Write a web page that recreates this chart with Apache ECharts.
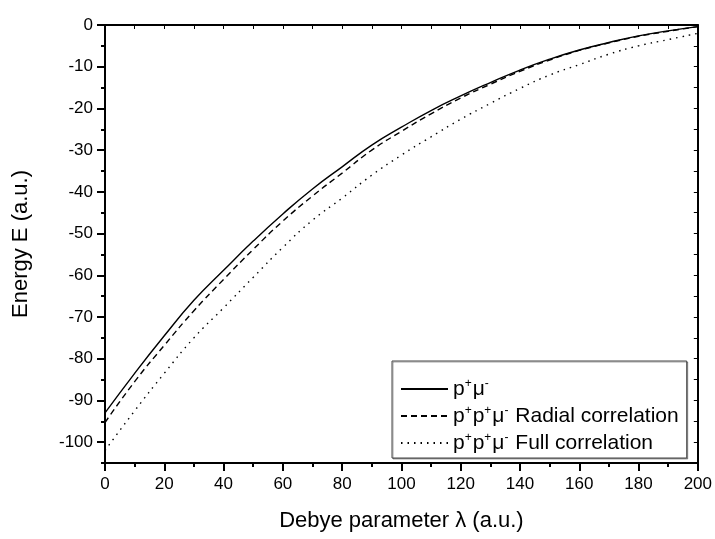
<!DOCTYPE html>
<html>
<head>
<meta charset="utf-8">
<script src="https://cdn.jsdelivr.net/npm/echarts@6/dist/echarts.min.js"></script>
<style>html,body{margin:0;padding:0;background:#fff}#c{width:715px;height:539px}</style>
</head>
<body>
<div id="c"></div>
<script>
var lambdaVals = [0,10,20,30,40,50,60,70,80,90,100,110,120,130,140,150,160,170,180,190,200];
var pMu = [-93.0,-83.5,-74.5,-66.0,-58.8,-51.8,-45.3,-39.3,-34.0,-28.8,-24.5,-20.5,-17.0,-13.8,-10.8,-8.2,-6.0,-4.2,-2.6,-1.4,-0.4];
var ppMuRadial = [-95.3,-85.5,-76.8,-68.5,-61.0,-53.8,-47.0,-41.0,-35.5,-30.0,-25.5,-21.3,-17.5,-14.2,-11.1,-8.4,-6.1,-4.3,-2.7,-1.5,-0.4];
var ppMuFull = [-102.0,-92.5,-83.5,-75.0,-67.8,-60.5,-53.3,-46.8,-41.5,-36.0,-31.2,-26.8,-22.6,-18.8,-15.2,-12.0,-9.5,-7.0,-5.0,-3.5,-2.0];
var seriesNames = ['p⁺μ⁻', 'p⁺p⁺μ⁻ Radial correlation', 'p⁺p⁺μ⁻ Full correlation'];
var legendRich = {
  'p⁺μ⁻': '{n|p}{s|+}{n|μ}{s|-}',
  'p⁺p⁺μ⁻ Radial correlation': '{n|p}{s|+}{n|p}{s|+}{n|μ}{s|-}{n| Radial correlation}',
  'p⁺p⁺μ⁻ Full correlation': '{n|p}{s|+}{n|p}{s|+}{n|μ}{s|-}{n| Full correlation}'
};
var xTitle = 'Debye parameter λ (a.u.)';
var yTitle = 'Energy E (a.u.)';

function pairs(ys){ return lambdaVals.map(function(x,i){ return [x, ys[i]]; }); }

var FONT = '"Liberation Sans", Arial, sans-serif';
var pxPerUnit = (539 - 25 - 76) / 105;
var chart = echarts.init(document.getElementById('c'));
chart.setOption({
  animation: false,
  backgroundColor: '#fff',
  textStyle: { fontFamily: FONT },
  grid: [
    { left: 105, right: 17, top: 25, bottom: 76 },
    { left: 105, right: 17, top: 25, bottom: 539 - (25 + 100 * pxPerUnit) }
  ],
  xAxis: [
    { type: 'value', gridIndex: 0, min: 0, max: 200, interval: 20, position: 'bottom',
      name: xTitle, nameLocation: 'middle', nameGap: 47,
      nameTextStyle: { fontSize: 22, color: '#000', fontFamily: FONT },
      axisLine: { show: true, onZero: false, lineStyle: { color: '#000', width: 2 } },
      axisTick: { show: true, inside: false, length: 8, lineStyle: { color: '#000', width: 2 } },
      minorTick: { show: true, splitNumber: 2, length: 4, lineStyle: { color: '#000', width: 2 } },
      axisLabel: { show: true, margin: 13, fontSize: 17, color: '#000', fontFamily: FONT },
      splitLine: { show: false } },
    { type: 'value', gridIndex: 0, min: 0, max: 200, interval: 10, position: 'top',
      axisLine: { show: true, onZero: false, lineStyle: { color: '#000', width: 2 } },
      axisTick: { show: true, inside: true, length: 4, lineStyle: { color: '#000', width: 1 } },
      axisLabel: { show: false }, splitLine: { show: false } },
    { type: 'value', gridIndex: 1, min: 0, max: 200, show: false }
  ],
  yAxis: [
    { type: 'value', gridIndex: 0, min: -105, max: 0, interval: 5, position: 'left',
      name: yTitle, nameLocation: 'middle', nameGap: 73, nameRotate: 90,
      nameTextStyle: { fontSize: 22, color: '#000', fontFamily: FONT },
      axisLine: { show: true, onZero: false, lineStyle: { color: '#000', width: 2 } },
      axisTick: { show: true, inside: false, length: 4, lineStyle: { color: '#000', width: 2 } },
      axisLabel: { show: false }, splitLine: { show: false } },
    { type: 'value', gridIndex: 0, min: -105, max: 0, interval: 5, position: 'right',
      axisLine: { show: true, onZero: false, lineStyle: { color: '#000', width: 2 } },
      axisTick: { show: true, inside: true, length: 4, lineStyle: { color: '#000', width: 1 } },
      axisLabel: { show: false }, splitLine: { show: false } },
    { type: 'value', gridIndex: 1, min: -100, max: 0, interval: 10, position: 'left',
      axisLine: { show: false },
      axisTick: { show: true, inside: false, length: 8, lineStyle: { color: '#000', width: 2 } },
      axisLabel: { show: true, margin: 12, fontSize: 17, color: '#000', fontFamily: FONT },
      splitLine: { show: false } }
  ],
  legend: {
    orient: 'vertical', left: 392, top: 361,
    padding: [17, 8, 4, 8], itemGap: 5, itemWidth: 47, itemHeight: 14,
    borderColor: '#444', borderWidth: 1, backgroundColor: '#fff',
    shadowColor: 'rgba(0,0,0,0.35)', shadowOffsetX: 1, shadowOffsetY: 1, shadowBlur: 0,
    itemStyle: { color: 'rgba(0,0,0,0)', borderWidth: 0, opacity: 0 },
    data: seriesNames,
    formatter: function(name){ return legendRich[name]; },
    textStyle: { color: '#000', fontSize: 21, lineHeight: 22, fontFamily: FONT,
      rich: {
        n: { fontSize: 21, lineHeight: 22, color: '#000', fontFamily: FONT },
        s: { fontSize: 12, lineHeight: 22, color: '#000', fontFamily: FONT, verticalAlign: 'top', padding: [0, 1, 0, 0] }
      } }
  },
  series: [
    { name: seriesNames[0], type: 'line', xAxisIndex: 0, yAxisIndex: 0, data: pairs(pMu),
      symbol: 'none', smooth: true, lineStyle: { color: '#000', width: 1.4, type: 'solid' }, itemStyle: { color: '#000' } },
    { name: seriesNames[1], type: 'line', xAxisIndex: 0, yAxisIndex: 0, data: pairs(ppMuRadial),
      symbol: 'none', smooth: true, lineStyle: { color: '#000', width: 1.4, type: [6, 4] }, itemStyle: { color: '#000' } },
    { name: seriesNames[2], type: 'line', xAxisIndex: 0, yAxisIndex: 0, data: pairs(ppMuFull),
      symbol: 'none', smooth: true, lineStyle: { color: '#000', width: 1.4, type: [1.5, 5] }, itemStyle: { color: '#000' } }
  ]
});
</script>
</body>
</html>
